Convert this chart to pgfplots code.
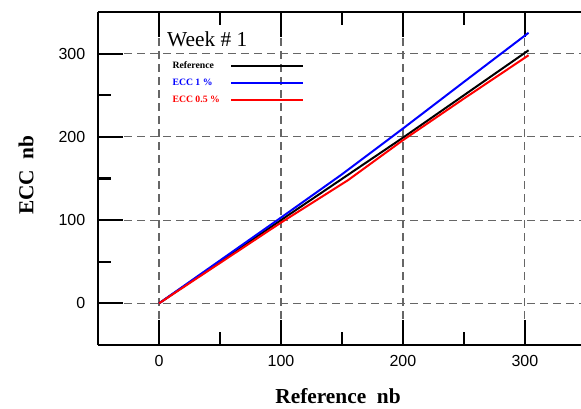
\documentclass[border=0pt]{standalone}
\usepackage{fontspec}
\setmainfont{Liberation Serif}
\setsansfont{Liberation Sans}
\usepackage{pgfplots}
\pgfplotsset{compat=1.18}
\begin{document}
\begin{tikzpicture}
\begin{axis}[
  name=ax,
  scale only axis,
  width=362.25pt, height=249.75pt,
  xmin=-50, xmax=346, ymin=-50, ymax=350,
  axis y line*=left,
  xtick={0,100,200,300}, ytick={0,100,200,300},
  minor xtick={50,150,250}, minor ytick={50,150,250},
  tick align=inside,
  major tick length=18.75pt, minor tick length=9.5pt,
  every tick/.style={black, line width=1.6pt},
  axis line style={line width=1.6pt},
  grid=major,
  major grid style={gray!80!black, dash pattern=on 6pt off 3.75pt, line width=0.9pt},
  ticklabel style={font=\sffamily\fontsize{12}{12}\selectfont},
  /pgf/number format/assume math mode=true,
  yticklabel style={xshift=-6pt},
  xticklabel style={yshift=-4pt},
  xlabel={\textbf{Reference\ \ nb}},
  ylabel={\textbf{ECC\ \ nb}},
  label style={font=\fontsize{16}{16}\selectfont},
  xlabel style={at={(rel axis cs:0.497,0)}, anchor=center, yshift=-38pt},
  ylabel style={at={([xshift=-54pt]rel axis cs:0,0.51)}, anchor=center, rotate=0},
  legend plot pos=right,
  legend cell align=left,
  legend image code/.code={\draw[#1] (0pt,0pt) -- (54pt,0pt);},
  legend style={draw=none, fill=none, at={(axis cs:6.5,296)}, anchor=north west,
    font=\bfseries\fontsize{7.3}{7.3}\selectfont, row sep=4.5pt,
    nodes={inner sep=1pt}, column sep=7pt},
]
\addplot[black, line width=1.5pt] coordinates {(0,0) (100,100) (200,199) (303,304)};
\addlegendentry{\textcolor{black}{Reference}}
\addplot[blue, line width=1.5pt] coordinates {(0,0) (100,103) (150,155) (200,210) (250,266) (303,325)};
\addlegendentry{\textcolor{blue}{ECC 1 \%}}
\addplot[red, line width=1.5pt] coordinates {(0,0) (100,97) (155,148) (200,196) (250,246) (303,298)};
\addlegendentry{\textcolor{red}{ECC 0.5 \%}}
\node[anchor=base west, font=\fontsize{16}{16}\selectfont, inner sep=0pt] at (axis cs:6.5,308) {Week \# 1};
\end{axis}
\pgfresetboundingbox
\path[use as bounding box] ([xshift=-73.5pt,yshift=-48pt]ax.south west) rectangle ([yshift=9pt]ax.north east);
\end{tikzpicture}
\end{document}
